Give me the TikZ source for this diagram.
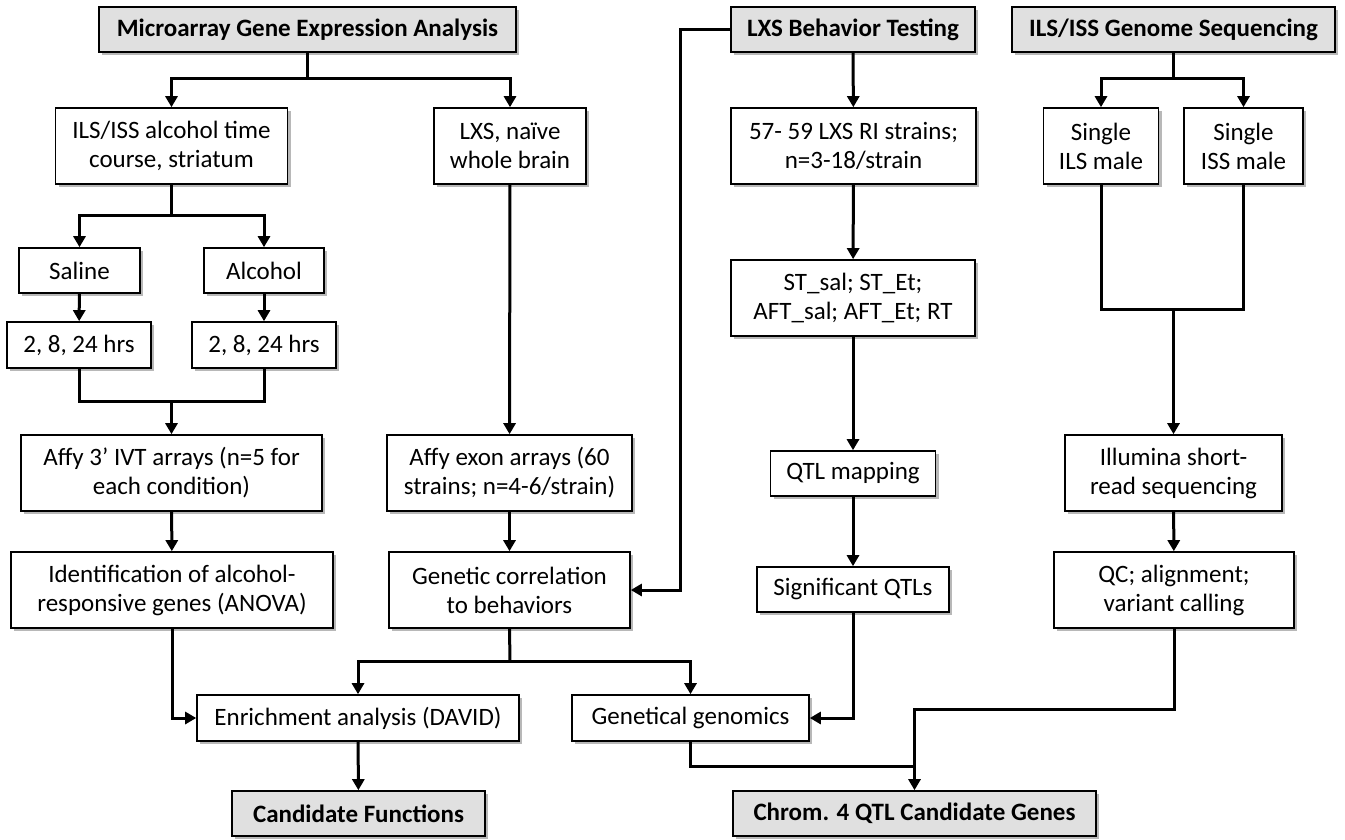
\documentclass[tikz,border=0pt]{standalone}
\usepackage{fontspec}
\setmainfont{Carlito}
\usetikzlibrary{shadows,arrows.meta}
\begin{document}
\begin{tikzpicture}[x=1pt,y=-1pt,
  box/.style={draw=black, line width=1.6pt, fill=white, inner sep=0pt, align=center,
    font=\fontsize{25}{29}\selectfont,
    drop shadow={shadow xshift=3pt, shadow yshift=-3pt, fill=black, opacity=0.28}},
  head/.style={box, fill=black!12, font=\fontsize{25}{29}\selectfont\bfseries},
  conn/.style={line width=3pt, line join=miter},
  arr/.style={conn, -{Triangle[length=11pt,width=12pt]}}]
\useasboundingbox (0,0) rectangle (1345,840);
\fill[white] (0,0) rectangle (1345,840);
% headers
\node[head, minimum width=417pt, minimum height=45pt] (mga) at (307.5,29.5) {Microarray Gene Expression Analysis};
\node[head, minimum width=244pt, minimum height=45pt] (lbt) at (853,29.5) {LXS Behavior Testing};
\node[head, minimum width=323pt, minimum height=45pt] (gsq) at (1173.5,29.5) {ILS/ISS Genome Sequencing};
% row 2
\node[box, minimum width=232pt, minimum height=76pt] (ils) at (171.5,146) {ILS/ISS alcohol time\\course, striatum};
\node[box, minimum width=152pt, minimum height=76pt] (lxs) at (510,146) {LXS, naïve\\whole brain};
\node[box, minimum width=245pt, minimum height=76pt] (rist) at (853.5,146) {57- 59 LXS RI strains;\\n=3-18/strain};
\node[box, minimum width=115pt, minimum height=76pt] (sils) at (1101,146) {Single\\ILS male};
\node[box, minimum width=119pt, minimum height=76pt] (siss) at (1243.5,146) {Single\\ISS male};
% left branch
\node[box, minimum width=121pt, minimum height=45pt] (sal) at (79.5,270.5) {Saline};
\node[box, minimum width=120pt, minimum height=45pt] (alc) at (264,270.5) {Alcohol};
\node[box, minimum width=144pt, minimum height=46pt] (h1) at (79,345) {2, 8, 24 hrs};
\node[box, minimum width=144pt, minimum height=46pt] (h2) at (264,345) {2, 8, 24 hrs};
\node[box, minimum width=244pt, minimum height=76pt] (phen) at (853,298) {ST\_sal; ST\_Et;\\AFT\_sal; AFT\_Et; RT};
% row arrays
\node[box, minimum width=301pt, minimum height=76pt] (a3) at (171.5,473) {Affy 3’ IVT arrays (n=5 for\\each condition)};
\node[box, minimum width=245pt, minimum height=76pt] (aex) at (509.5,473) {Affy exon arrays (60\\strains; n=4-6/strain)};
\node[box, minimum width=165pt, minimum height=45pt] (qtlm) at (853,473.5) {QTL mapping};
\node[box, minimum width=217pt, minimum height=76pt] (illu) at (1173.5,473) {Illumina short-\\read sequencing};
% next row
\node[box, minimum width=322pt, minimum height=76pt] (idf) at (172,590) {Identification of alcohol-\\responsive genes (ANOVA)};
\node[box, minimum width=241pt, minimum height=76pt] (gcor) at (509.5,590) {Genetic correlation\\to behaviors};
\node[box, minimum width=192pt, minimum height=45pt] (sig) at (853,589.5) {Significant QTLs};
\node[box, minimum width=240pt, minimum height=76pt] (qc) at (1174,590) {QC; alignment;\\variant calling};
% analysis row
\node[box, minimum width=322pt, minimum height=46pt] (enr) at (358,718) {Enrichment analysis (DAVID)};
\node[box, minimum width=237pt, minimum height=46pt] (ggen) at (690.5,718) {Genetical genomics};
% results
\node[head, minimum width=253pt, minimum height=45pt] (cf) at (358.5,813.5) {Candidate Functions};
\node[head, minimum width=363pt, minimum height=45pt] (chr) at (914.5,813.5) {Chrom. 4 QTL Candidate Genes};
% junction coordinates
\coordinate (b1) at (307.5,79);
\coordinate (b2) at (171.5,216);
\coordinate (j1) at (171.5,401);
\coordinate (cL) at (680,29.5);
\coordinate (b3) at (510,661);
\coordinate (b4) at (1173.5,79);
\coordinate (j3) at (1173.5,309);
\coordinate (j4) at (914.5,709);
\coordinate (j5) at (914.5,766);
% connectors
\draw[conn] (mga.south) -- (b1);
\draw[arr] (b1) -| (ils.north);
\draw[arr] (b1) -| (lxs.north);
\draw[conn] (ils.south) -- (b2);
\draw[arr] (b2) -| (sal.north);
\draw[arr] (b2) -| (alc.north);
\draw[arr] (sal) -- (h1);
\draw[arr] (alc) -- (h2);
\draw[conn] (h1.south) |- (j1);
\draw[conn] (h2.south) |- (j1);
\draw[arr] (j1) -- (a3.north);
\draw[arr] (a3) -- (idf);
\draw[arr] (idf.south) |- (enr.west);
\draw[arr] (lxs) -- (aex);
\draw[arr] (aex) -- (gcor);
\draw[arr] (lbt.west) -- (cL) |- (gcor.east);
\draw[conn] (gcor.south) -- (b3);
\draw[arr] (b3) -| (enr.north);
\draw[arr] (b3) -| (ggen.north);
\draw[arr] (enr) -- (cf);
\draw[arr] (lbt) -- (rist);
\draw[arr] (rist) -- (phen);
\draw[arr] (phen) -- (qtlm);
\draw[arr] (qtlm) -- (sig);
\draw[arr] (sig.south) |- (ggen.east);
\draw[conn] (gsq.south) -- (b4);
\draw[arr] (b4) -| (sils.north);
\draw[arr] (b4) -| (siss.north);
\draw[conn] (sils.south) |- (j3);
\draw[conn] (siss.south) |- (j3);
\draw[arr] (j3) -- (illu.north);
\draw[arr] (illu) -- (qc);
\draw[arr] (qc.south) |- (j4) -- (chr.north);
\draw[conn] (ggen.south) |- (j5);
\end{tikzpicture}
\end{document}
